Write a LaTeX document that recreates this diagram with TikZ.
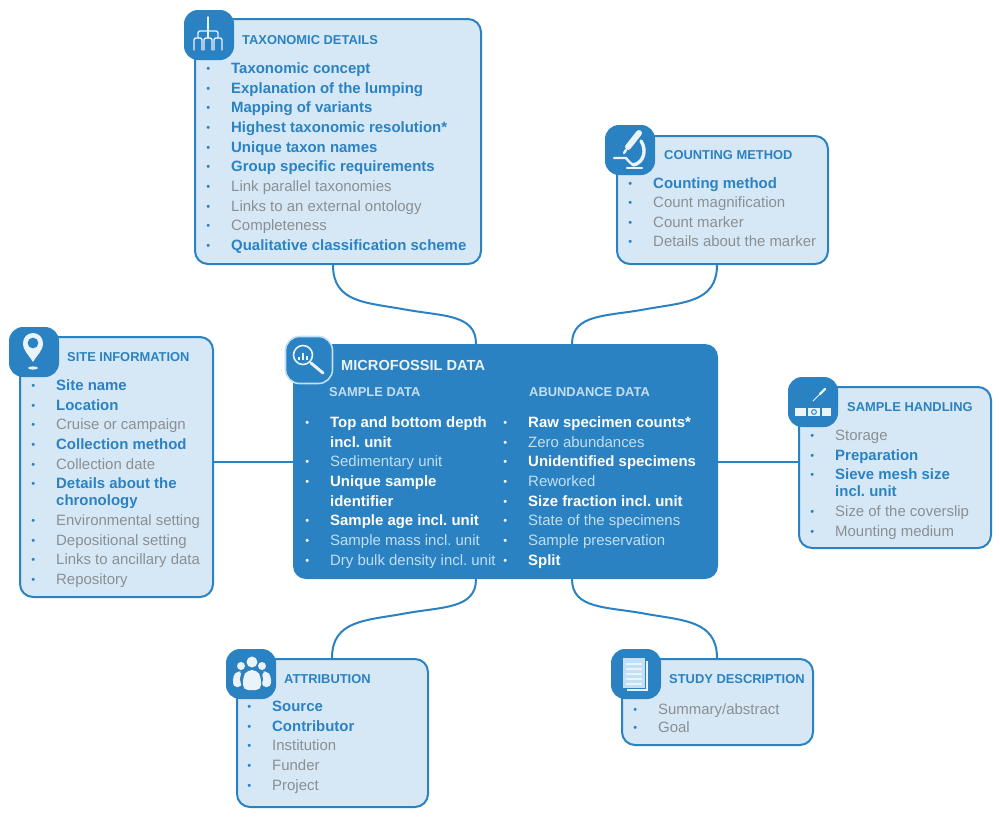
\documentclass[tikz,border=0pt]{standalone}
\usepackage{fontspec}
\setmainfont{Liberation Sans}
\usetikzlibrary{calc}
\definecolor{main}{HTML}{2A82C2}
\definecolor{pale}{HTML}{D6E8F6}
\definecolor{grayt}{HTML}{8A8F93}
\definecolor{softw}{HTML}{C3DFF3}
\definecolor{iconw}{HTML}{EAF3FA}
\colorlet{keyc}{main}
\colorlet{plainc}{grayt}
\colorlet{dotc}{main}
\newcommand{\mk}{\llap{\raisebox{1pt}{\textcolor{dotc}{\fontsize{11}{11}\selectfont\textbullet}}\hspace{21pt}}}
\newcommand{\ky}[1]{\textcolor{keyc}{\textbf{#1}}}
\newcommand{\pl}[1]{\textcolor{plainc}{#1}}
\tikzset{
  box/.style={draw=main, fill=pale, line width=2pt, rounded corners=13pt, inner sep=0pt},
  bigbox/.style={fill=main, rounded corners=13pt, inner sep=0pt},
  icon/.style={fill=main, rounded corners=14pt, minimum size=50pt, inner sep=0pt},
  link/.style={draw=main, line width=2pt},
  head/.style={text=main, font=\fontsize{12.9}{15}\selectfont\bfseries, inner sep=0pt, anchor=west},
  items/.style={font=\frenchspacing\fontsize{14.95}{19.65}\selectfont, align=left, inner sep=0pt, anchor=north west},
  darkitems/.style={items, execute at begin node={\colorlet{keyc}{white}\colorlet{plainc}{softw}\colorlet{dotc}{white}}},
  glyph/.style={draw=iconw, line width=1.4pt, line cap=round, line join=round},
  solid glyph/.style={fill=iconw},
}
\begin{document}
\begin{tikzpicture}[x=1pt,y=-1pt]
  \useasboundingbox (0,0) rectangle (1000,817);

  % boxes
  \node[box,minimum width=286pt,minimum height=245pt] (taxo) at (338,141.5) {};
  \node[box,minimum width=211pt,minimum height=128pt] (count) at (722.5,200) {};
  \node[box,minimum width=193pt,minimum height=260pt] (site) at (116.5,467) {};
  \node[bigbox,minimum width=425pt,minimum height=235pt] (micro) at (505.5,461.5) {};
  \node[box,minimum width=192pt,minimum height=161pt] (handling) at (895,467.5) {};
  \node[box,minimum width=191pt,minimum height=148pt] (attr) at (332.5,733) {};
  \node[box,minimum width=191pt,minimum height=86pt] (study) at (717.5,702) {};

  % connectors
  \coordinate (taxoend) at ([xshift=-5pt]taxo.south);
  \coordinate (countend) at ([xshift=-5.5pt]count.south);
  \coordinate (attrend) at ([xshift=-0.5pt]attr.north);
  \coordinate (studyend) at ([xshift=-0.5pt]study.north);
  \coordinate (microtl) at ([xshift=-29.5pt]micro.north);
  \coordinate (microtr) at ([xshift=66.5pt]micro.north);
  \coordinate (microbl) at ([xshift=-29.5pt]micro.south);
  \coordinate (microbr) at ([xshift=66.5pt]micro.south);
  \draw[link] (taxoend) .. controls +(0,38) and +(-38,-7) .. ($(taxoend)!.5!(microtl)+(0,5)$) .. controls +(38,7) and +(0,-30) .. (microtl);
  \draw[link] (countend) .. controls +(0,38) and +(38,-7) .. ($(countend)!.5!(microtr)+(0,5)$) .. controls +(-38,7) and +(0,-30) .. (microtr);
  \draw[link] (microbl) .. controls +(0,30) and +(38,-7) .. ($(microbl)!.5!(attrend)+(0,-5)$) .. controls +(-38,7) and +(0,-38) .. (attrend);
  \draw[link] (microbr) .. controls +(0,30) and +(-38,-7) .. ($(microbr)!.5!(studyend)+(0,-5)$) .. controls +(38,7) and +(0,-38) .. (studyend);
  \draw[link] (site.east |- micro.center) -- (micro.west);
  \draw[link] (micro.east) -- (handling.west |- micro.center);

  % icons
  \node[icon] (taxoicon) at (209,35) {};
  \node[icon] (counticon) at (630,150) {};
  \node[icon] (siteicon) at (34,352) {};
  \node[icon,draw=softw,line width=1.6pt,minimum size=47pt] (microicon) at (309,360) {};
  \node[icon] (handlingicon) at (813,402) {};
  \node[icon] (attricon) at (251,674) {};
  \node[icon] (studyicon) at (636,674) {};

  % titles
  \node[head] (taxohead) at (242,40) {TAXONOMIC DETAILS};
  \node[head] (counthead) at (664,155) {COUNTING METHOD};
  \node[head] (sitehead) at (67,357) {SITE INFORMATION};
  \node[head,text=iconw,font=\fontsize{14.6}{16}\selectfont\bfseries] (microhead) at (341,365) {MICROFOSSIL DATA};
  \node[head,text=softw] (samplehead) at (329,392) {SAMPLE DATA};
  \node[head,text=softw] (abundhead) at (529,392) {ABUNDANCE DATA};
  \node[head] (handlinghead) at (847,407) {SAMPLE HANDLING};
  \node[head] (attrhead) at (284,679) {ATTRIBUTION};
  \node[head] (studyhead) at (669,679) {STUDY DESCRIPTION};

  % lists
  \node[items] (taxolist) at (231,62.6) {%
    \mk\ky{Taxonomic concept}\\
    \mk\ky{Explanation of the lumping}\\
    \mk\ky{Mapping of variants}\\
    \mk\ky{Highest taxonomic resolution*}\\
    \mk\ky{Unique taxon names}\\
    \mk\ky{Group specific requirements}\\
    \mk\pl{Link parallel taxonomies}\\
    \mk\pl{Links to an external ontology}\\
    \mk\pl{Completeness}\\
    \mk\ky{Qualitative classification scheme}};
  \node[items] (countlist) at (653,177) {%
    \mk\ky{Counting method}\\
    \mk\pl{Count magnification}\\
    \mk\pl{Count marker}\\
    \mk\pl{Details about the marker}};
  \node[items] (sitelist) at (56,379.5) {%
    \mk\ky{Site name}\\
    \mk\ky{Location}\\
    \mk\pl{Cruise or campaign}\\
    \mk\ky{Collection method}\\
    \mk\pl{Collection date}\\
    \mk\ky{Details about the}\\[-2.6pt]
    \ky{chronology}\\
    \mk\pl{Environmental setting}\\
    \mk\pl{Depositional setting}\\
    \mk\pl{Links to ancillary data}\\
    \mk\pl{Repository}};
  \node[darkitems] (samplelist) at (330,416.5) {%
    \mk\ky{Top and bottom depth}\\
    \ky{incl. unit}\\
    \mk\pl{Sedimentary unit}\\
    \mk\ky{Unique sample}\\
    \ky{identifier}\\
    \mk\ky{Sample age incl. unit}\\
    \mk\pl{Sample mass incl. unit}\\
    \mk\pl{Dry bulk density incl. unit}};
  \node[darkitems] (abundlist) at (528,416.5) {%
    \mk\ky{Raw specimen counts*}\\
    \mk\pl{Zero abundances}\\
    \mk\ky{Unidentified specimens}\\
    \mk\pl{Reworked}\\
    \mk\ky{Size fraction incl. unit}\\
    \mk\pl{State of the specimens}\\
    \mk\pl{Sample preservation}\\
    \mk\ky{Split}};
  \node[items] (handlinglist) at (835,430) {%
    \mk\pl{Storage}\\
    \mk\ky{Preparation}\\
    \mk\ky{Sieve mesh size}\\[-2.6pt]
    \ky{incl. unit}\\
    \mk\pl{Size of the coverslip}\\
    \mk\pl{Mounting medium}};
  \node[items] (attrlist) at (272,701) {%
    \mk\ky{Source}\\
    \mk\ky{Contributor}\\
    \mk\pl{Institution}\\
    \mk\pl{Funder}\\
    \mk\pl{Project}};
  \node[items] (studylist) at (658,703) {%
    \mk\pl{Summary/abstract}\\[-1pt]
    \mk\pl{Goal}};

  % taxonomic tree
  \draw[glyph] (208,17) -- (208,38);
  \draw[glyph,rounded corners=2pt] (198,38) -- (198,31) -- (218,31) -- (218,38);
  \foreach \tx in {198,208,218}
    \draw[glyph,rounded corners=2pt] (\tx-4,50) -- (\tx-4,38) -- (\tx+4,38) -- (\tx+4,50);

  % microscope
  \draw[glyph,line width=6pt] (639,133) -- (628,147);
  \draw[glyph,line width=2.4pt] (626,150) -- (624,153);
  \draw[glyph,line width=3.4pt] (641,141) .. controls (647,150) and (644,163) .. (633,165);
  \draw[glyph,line width=2.4pt] (614,158) -- (626,158) .. controls (630,163) and (632,165) .. (636,165);
  \draw[glyph,line width=2.4pt] (627,168) -- (642,168);

  % pin
  \fill[solid glyph,even odd rule] (33,362) .. controls (29,355) and (23,351) .. (23,343) arc[start angle=180,end angle=360,radius=10] .. controls (43,351) and (37,355) .. (33,362) -- cycle (33,343) circle (5.5);
  \fill[solid glyph] (33,368) ellipse (5 and 1.6);

  % magnifier
  \draw[glyph,line width=1.6pt] (303,355) circle (9.5);
  \draw[glyph,line width=3pt] (311,363) -- (323,373);
  \foreach \bx/\by in {299/357,303/353,307/356}
    \fill[solid glyph] (\bx-1.3,\by) rectangle (\bx+1.3,360);

  % handling
  \fill[solid glyph] (795,408) rectangle (806,416);
  \fill[solid glyph] (808,408) rectangle (820,416);
  \fill[solid glyph] (822,408) rectangle (831,416);
  \draw[main,line width=1pt] (814,412) circle (2.4);
  \draw[glyph,line width=1pt] (813,401) -- (820,394);
  \draw[glyph,line width=2.4pt] (820,394) -- (825,389);

  % people
  \fill[solid glyph,rounded corners=4pt] (233,687) -- (233,676) -- (237,671) -- (242,672) -- (242,687) -- cycle;
  \fill[solid glyph,rounded corners=4pt] (271,687) -- (271,676) -- (267,671) -- (262,672) -- (262,687) -- cycle;
  \fill[solid glyph] (241,666) circle (4);
  \fill[solid glyph] (262,666) circle (4);
  \fill[main] (251.5,679) ellipse (11.5 and 12);
  \fill[solid glyph,rounded corners=5pt] (243,690) -- (243,677) -- (247,670) -- (257,670) -- (261,677) -- (261,690) -- cycle;
  \fill[solid glyph] (252,662) circle (5.5);

  % document
  \fill[iconw] (627,661) rectangle (648,691);
  \fill[main] (626,660) rectangle (646,689);
  \fill[softw] (623,658) rectangle (645,688);
  \foreach \ly in {664,669,674,679,684}
    \draw[iconw,line width=1.2pt] (626,\ly) -- (642,\ly);
\end{tikzpicture}
\end{document}
